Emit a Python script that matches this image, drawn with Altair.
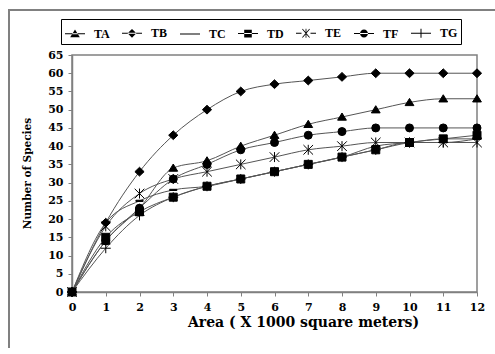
import math
import altair as alt
import pandas as pd

# ---- data ----
area = list(range(13))
series = ["TA", "TB", "TC", "TD", "TE", "TF", "TG"]
TA = [0, 14, 23, 34, 36, 40, 43, 46, 48, 50, 52, 53, 53]
TB = [0, 19, 33, 43, 50, 55, 57, 58, 59, 60, 60, 60, 60]
TC = [0, 19, 25, 28, 29, 31, 33, 35, 37, 40, 41, 42, 42]
TD = [0, 15, 22, 26, 29, 31, 33, 35, 37, 39, 41, 42, 43]
TE = [0, 18, 27, 31, 33, 35, 37, 39, 40, 41, 41, 41, 41]
TF = [0, 14, 23, 31, 35, 39, 41, 43, 44, 45, 45, 45, 45]
TG = [0, 12, 21, 26, 29, 31, 33, 35, 37, 39, 41, 41, 42]
y_ticks = list(range(0, 66, 5))

values = {"TA": TA, "TB": TB, "TC": TC, "TD": TD, "TE": TE, "TF": TF, "TG": TG}
rows = []
for s in series:
    for a, v in zip(area, values[s]):
        rows.append({"area": a, "species": v, "series": s})
df = pd.DataFrame(rows)


def bar(x1, y1, x2, y2, w=0.05):
    """thin filled bar between two points (symbol units)"""
    dx, dy = x2 - x1, y2 - y1
    n = math.hypot(dx, dy)
    px, py = -dy / n * w, dx / n * w
    pts = [(x1 + px, y1 + py), (x2 + px, y2 + py), (x2 - px, y2 - py), (x1 - px, y1 - py)]
    return "M" + "L".join(f"{a:.3f},{b:.3f}" for a, b in pts) + "Z"


LINE = bar(-1, 0, 1, 0)

# marker shapes (plot) and legend symbols (line + marker)
plot_shapes = [
    "M0,-1L1.1,0.8L-1.1,0.8Z",
    "M0,-1.1L1.15,0L0,1.1L-1.15,0Z",
    "M-0.9,-0.15L0.9,-0.15L0.9,0.15L-0.9,0.15Z",
    "M-1,-1L1,-1L1,1L-1,1Z",
    "M-1.2,-1.2L1.2,1.2M-1.2,1.2L1.2,-1.2M0,-1.25L0,1.25",
    "circle",
    "M-1.25,0L1.25,0M0,-1.25L0,1.25",
]
legend_shapes = [
    LINE + "M0,-0.42L0.48,0.34L-0.48,0.34Z",
    LINE + "M0,-0.44L0.44,0L0,0.44L-0.44,0Z",
    LINE + "M-0.2,-0.09L0.2,-0.09L0.2,0.09L-0.2,0.09Z",
    LINE + "M-0.38,-0.38L0.38,-0.38L0.38,0.38L-0.38,0.38Z",
    bar(-1, 0, -0.45, 0) + bar(0.45, 0, 1, 0)
    + bar(-0.36, -0.42, 0.36, 0.42, 0.04) + bar(-0.36, 0.42, 0.36, -0.42, 0.04)
    + bar(0, -0.45, 0, 0.45, 0.04),
    LINE + "M0.4,0A0.4,0.4,0,1,1,-0.4,0A0.4,0.4,0,1,1,0.4,0Z",
    LINE + bar(0, -0.45, 0, 0.45),
]

tick_font = "DejaVu Serif"
legend_font = "Liberation Serif"

x_axis = alt.Axis(
    values=area, grid=False, tickSize=4, tickColor="#808080", domainColor="#808080",
    domainWidth=1.5, labelFlush=False, labelOverlap=False,
    labelFont=tick_font, labelFontWeight="bold", labelFontSize=11, labelColor="black",
    labelPadding=5,
    title="Area ( X 1000  square meters)", titleFont=tick_font, titleFontSize=14,
    titleFontWeight="bold", titleColor="black", titleX=231, titleY=34,
    titleAlign="center", titleBaseline="alphabetic",
)
y_axis = alt.Axis(
    values=y_ticks, grid=False, tickSize=4, tickColor="#808080", domainColor="#808080",
    domainWidth=1.5, labelOverlap=False,
    labelFont=tick_font, labelFontWeight="bold", labelFontSize=11, labelColor="black",
    labelPadding=5,
    title="Number of Species", titleFont=tick_font, titleFontSize=10.5,
    titleFontWeight="bold", titleColor="black", titleX=-45, titleY=118,
    titleAngle=-90, titleAlign="center", titleBaseline="middle",
)
x_scale = alt.Scale(domain=[0, 12], nice=False)
y_scale = alt.Scale(domain=[0, 65], nice=False)


def xe():
    return alt.X("area:Q", scale=x_scale, axis=x_axis)


def ye():
    return alt.Y("species:Q", scale=y_scale, axis=y_axis)


base = alt.Chart(df)

lines = base.mark_line(interpolate="monotone", color="#555555", strokeWidth=1).encode(
    x=xe(), y=ye(), detail="series:N"
)

points = base.mark_point(
    filled=True, color="black", stroke="black", strokeWidth=1, size=64, opacity=1
).encode(
    x=xe(),
    y=ye(),
    shape=alt.Shape("series:N", scale=alt.Scale(domain=series, range=plot_shapes), legend=None),
)

legend_layer = base.mark_point(filled=True, color="black", opacity=0).encode(
    x=xe(),
    y=ye(),
    shape=alt.Shape(
        "series:N",
        scale=alt.Scale(domain=series, range=legend_shapes),
        legend=alt.Legend(
            title=None, orient="none", legendX=-11, legendY=-36, direction="horizontal",
            columns=7, symbolSize=400, symbolOpacity=1,
            symbolFillColor="black",
            labelFont=legend_font, labelFontSize=12, labelFontWeight="bold",
            labelColor="black", labelOffset=8, columnPadding=9, padding=3,
            strokeColor="black",
        ),
    ),
)

# outer chart-area frame: only its left edge and top edge fall inside the picture
one = pd.DataFrame({"k": [0]})
frame_left = alt.Chart(one).mark_rule(color="#808080", strokeWidth=2).encode(
    x=alt.value(-63), x2=alt.value(-63), y=alt.value(-45), y2=alt.value(300)
)
frame_top = alt.Chart(one).mark_rule(color="#808080", strokeWidth=2).encode(
    x=alt.value(-64), x2=alt.value(423), y=alt.value(-45), y2=alt.value(-45)
)

chart = (
    alt.layer(frame_left, frame_top, lines, points, legend_layer)
    .resolve_scale(shape="independent")
    .properties(
        width=405, height=237, autosize="none",
        padding={"left": 72, "top": 55, "right": 18, "bottom": 56},
        background="white",
    )
    .configure_view(stroke="#808080", strokeWidth=1.5)
)

chart.save("out.html", embed_options={"renderer": "svg", "actions": False})
